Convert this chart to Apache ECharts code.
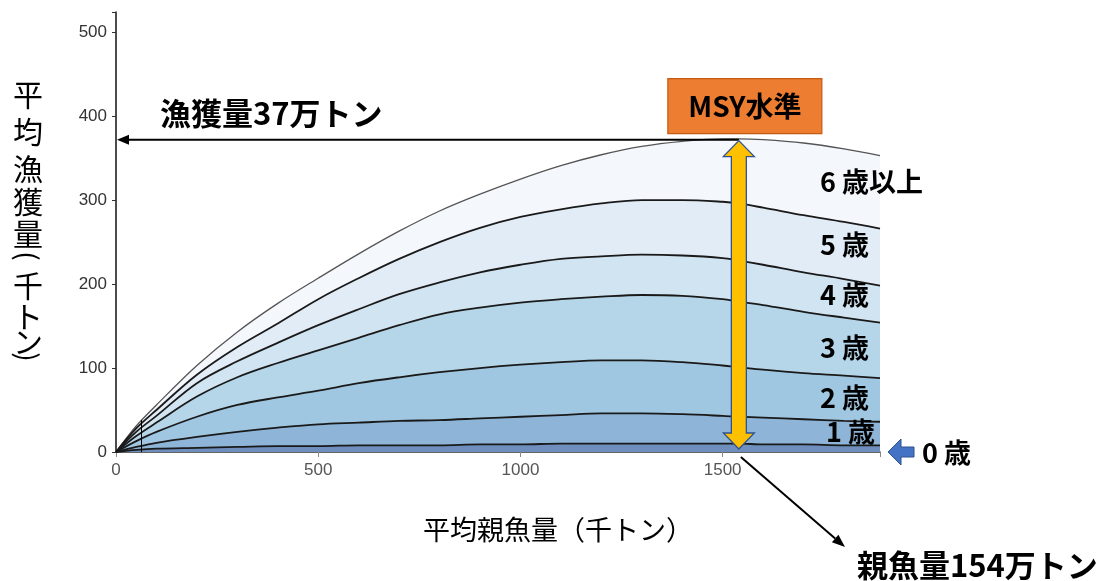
<!DOCTYPE html>
<html><head><meta charset="utf-8">
<script src="https://cdn.jsdelivr.net/npm/echarts@6/dist/echarts.min.js"></script>
<style>html,body{margin:0;padding:0;background:#fff}#c{width:1110px;height:581px}</style>
</head><body><div id="c"></div>
<script>
// Average spawning stock biomass (thousand t)
const spawning = [0,50,100,200,300,400,500,600,700,800,900,1000,1100,1200,1300,1400,1500,1540,1600,1700,1800,1889];
// Cumulative average catch (thousand t): upper edge of each age band
const cumAge0   = [0,2.5,4,5,6,7,7,8,8,8,9,9,10,10,10,10,10,10,9,9,8,8];
const cumAge1   = [0,6,11,18,24,29,33,35,37,38,40,42,44,46,46,45,43,42,41,39,37,36];
const cumAge2   = [0,13,24,42,56,65,73,82,89,95,100,104,107,109,109,107,103,101,98,94,91,88];
const cumAge3   = [0,19,35,66,89,106,121,136,151,164,172,178,182,185,187,186,182,179,175,167,160,154];
const cumAge4   = [0,24,43,82,108,130,151,170,188,202,214,223,230,233,235,234,231,228,223,214,206,198];
const cumAge5   = [0,28,50,92,125,153,182,207,230,250,267,280,289,296,300,300,298,296,291,282,274,266];
const cumAge6p  = [0,31,56,103,143,177,207,236,263,287,307,325,341,354,364,370,373,373,372,368,361,353];
const bandLabels = ['6 歳以上','5 歳','4 歳','3 歳','2 歳','1 歳'];
const yTitleChars = ['平','均','漁','獲','量','(','千','ト','ン',')'];
const yTicks = [0,100,200,300,400,500];
const xTicks = [0,500,1000,1500];
const msySpawning = 1540;   // 154万トン
const msyCatch = 372;       // 37万トン
const currentSpawning = 63;
const currentCatch = 38;

const curves = [cumAge6p, cumAge5, cumAge4, cumAge3, cumAge2, cumAge1, cumAge0];
const fills  = ['#f4f7fc','#e2ecf6','#d1e4f1','#b5d6e9','#a0c7e1','#8eb4d8','#6e8fbd'];
const lineCols = ['#555','#1a1a1a','#1a1a1a','#1a1a1a','#1a1a1a','#1a1a1a','#1a1a1a'];

const chart = echarts.init(document.getElementById('c'), null, {renderer:'canvas'});
const JP = '"Noto Sans CJK JP", "Noto Sans", sans-serif';
const NARROW = '"Liberation Sans Narrow", "Arial Narrow", "Liberation Sans", sans-serif';

const seriesList = curves.map((c, k) => ({
  type: 'line',
  data: spawning.map((x, i) => [x, c[i]]),
  smooth: 0.35,
  symbol: 'none',
  z: 2,
  lineStyle: { color: lineCols[k], width: k === 0 ? 1.3 : 1.8 },
  areaStyle: { color: fills[k], opacity: 1, origin: 'start' },
  silent: true
}));
seriesList[0].markLine = {
  silent: true, symbol: 'none',
  lineStyle: { color: '#000', width: 1, type: 'solid' },
  label: { show: false },
  data: [[{ coord: [currentSpawning, 0] }, { coord: [currentSpawning, currentCatch] }]]
};

chart.setOption({
  animation: false,
  backgroundColor: '#fff',
  grid: { left: 116, right: 230, top: 12, bottom: 129, containLabel: false },
  xAxis: {
    type: 'value', min: 0, max: 1889, interval: 500,
    axisLine: { show: true, lineStyle: { color: '#333', width: 1.5 } },
    axisTick: { show: true, length: 5, lineStyle: { color: '#888' } },
    axisLabel: { color: '#555', fontFamily: NARROW, fontSize: 17, margin: 10,
      formatter: v => xTicks.includes(v) ? String(v) : '' },
    splitLine: { show: false }
  },
  yAxis: {
    type: 'value', min: 0, max: 524, interval: 100,
    axisLine: { show: true, lineStyle: { color: '#111', width: 1.5 } },
    axisTick: { show: true, length: 4, lineStyle: { color: '#333' } },
    axisLabel: { color: '#333', fontFamily: NARROW, fontSize: 17, margin: 9,
      formatter: v => yTicks.includes(v) ? String(v) : '' },
    splitLine: { show: false }
  },
  series: seriesList
});

function toPx(x, y) { return chart.convertToPixel({ gridIndex: 0 }, [x, y]); }
const pTop = toPx(msySpawning, msyCatch);
const pBot = toPx(msySpawning, 0);
const pAxis = toPx(0, msyCatch);
const cx = pTop[0];

const g = [];
// horizontal arrow: MSY catch to y axis
g.push({ type: 'line', z: 20, shape: { x1: cx, y1: pTop[1], x2: pAxis[0] + 10, y2: pTop[1] },
  style: { stroke: '#000', lineWidth: 2 } });
g.push({ type: 'polygon', z: 20, shape: { points: [[pAxis[0] + 1, pTop[1]], [pAxis[0] + 13, pTop[1] - 5], [pAxis[0] + 13, pTop[1] + 5]] },
  style: { fill: '#000' } });
// double-headed yellow arrow
const hw = 15.5, sw = 7.5, hh = 16;
const tY = pTop[1] + 1, bY = pBot[1] - 3;
g.push({ type: 'polygon', z: 21, shape: { points: [
  [cx, tY], [cx + hw, tY + hh], [cx + sw, tY + hh], [cx + sw, bY - hh], [cx + hw, bY - hh], [cx, bY],
  [cx - hw, bY - hh], [cx - sw, bY - hh], [cx - sw, tY + hh], [cx - hw, tY + hh]
] }, style: { fill: '#FFC000', stroke: '#2F528F', lineWidth: 1.3 } });
// MSY box
g.push({ type: 'rect', z: 22, shape: { x: cx - 71, y: pTop[1] - 61, width: 154, height: 55 },
  style: { fill: '#ED7D31', stroke: '#C55A11', lineWidth: 1.2 } });
g.push({ type: 'text', z: 23, x: cx + 6, y: pTop[1] - 33,
  style: { text: 'MSY水準', font: 'bold 28px ' + JP, fill: '#000', align: 'center', verticalAlign: 'middle' } });
// catch annotation
g.push({ type: 'text', z: 23, x: 160, y: 113,
  style: { text: '漁獲量37万トン', font: 'bold 31px ' + JP, fill: '#000', align: 'left', verticalAlign: 'middle' } });
// diagonal arrow to spawning annotation
const d0 = [pBot[0] + 2, pBot[1] + 5], d1 = [845, 547];
const ang = Math.atan2(d1[1] - d0[1], d1[0] - d0[0]);
const ah = 13, aw = 5;
const bx = d1[0] - ah * Math.cos(ang), by = d1[1] - ah * Math.sin(ang);
g.push({ type: 'line', z: 20, shape: { x1: d0[0], y1: d0[1], x2: bx, y2: by }, style: { stroke: '#000', lineWidth: 2 } });
g.push({ type: 'polygon', z: 20, shape: { points: [d1,
  [bx + aw * Math.sin(ang), by - aw * Math.cos(ang)], [bx - aw * Math.sin(ang), by + aw * Math.cos(ang)]] },
  style: { fill: '#000' } });
g.push({ type: 'text', z: 23, x: 857, y: 565,
  style: { text: '親魚量154万トン', font: 'bold 31px ' + JP, fill: '#000', align: 'left', verticalAlign: 'middle' } });
// age labels
const labY = [182, 245, 295, 348, 398, 432];
const labX = [820, 820, 820, 820, 820, 826];
bandLabels.forEach((s, i) => g.push({ type: 'text', z: 23, x: labX[i], y: labY[i],
  style: { text: s, font: 'bold 27px ' + JP, fill: '#000', align: 'left', verticalAlign: 'middle' } }));
// 0 歳 with blue arrow
g.push({ type: 'polygon', z: 23, shape: { points: [[888, 452], [901, 439], [901, 447], [914, 447], [914, 457], [901, 457], [901, 465]] },
  style: { fill: '#4472C4', stroke: '#2F528F', lineWidth: 1 } });
g.push({ type: 'text', z: 23, x: 922, y: 453,
  style: { text: '0 歳', font: 'bold 27px ' + JP, fill: '#000', align: 'left', verticalAlign: 'middle' } });
// vertical y-axis title, parentheses turned for vertical writing
const yTitleY = [95, 132, 169, 202, 234, 256, 286, 317, 342, 357];
yTitleChars.forEach((ch, i) => {
  const paren = ch === '(' || ch === ')';
  g.push({ type: 'text', z: 23, x: 28, y: yTitleY[i], rotation: paren ? -Math.PI / 2 : 0,
    style: { text: ch, font: (paren ? '28px ' : '30px ') + JP, fill: '#000', align: 'center', verticalAlign: 'middle' } });
});
g.push({ type: 'text', z: 23, x: 558, y: 530,
  style: { text: '平均親魚量（千トン）', font: '27px ' + JP, fill: '#000', align: 'center', verticalAlign: 'middle' } });

chart.setOption({ graphic: g });
</script></body></html>
